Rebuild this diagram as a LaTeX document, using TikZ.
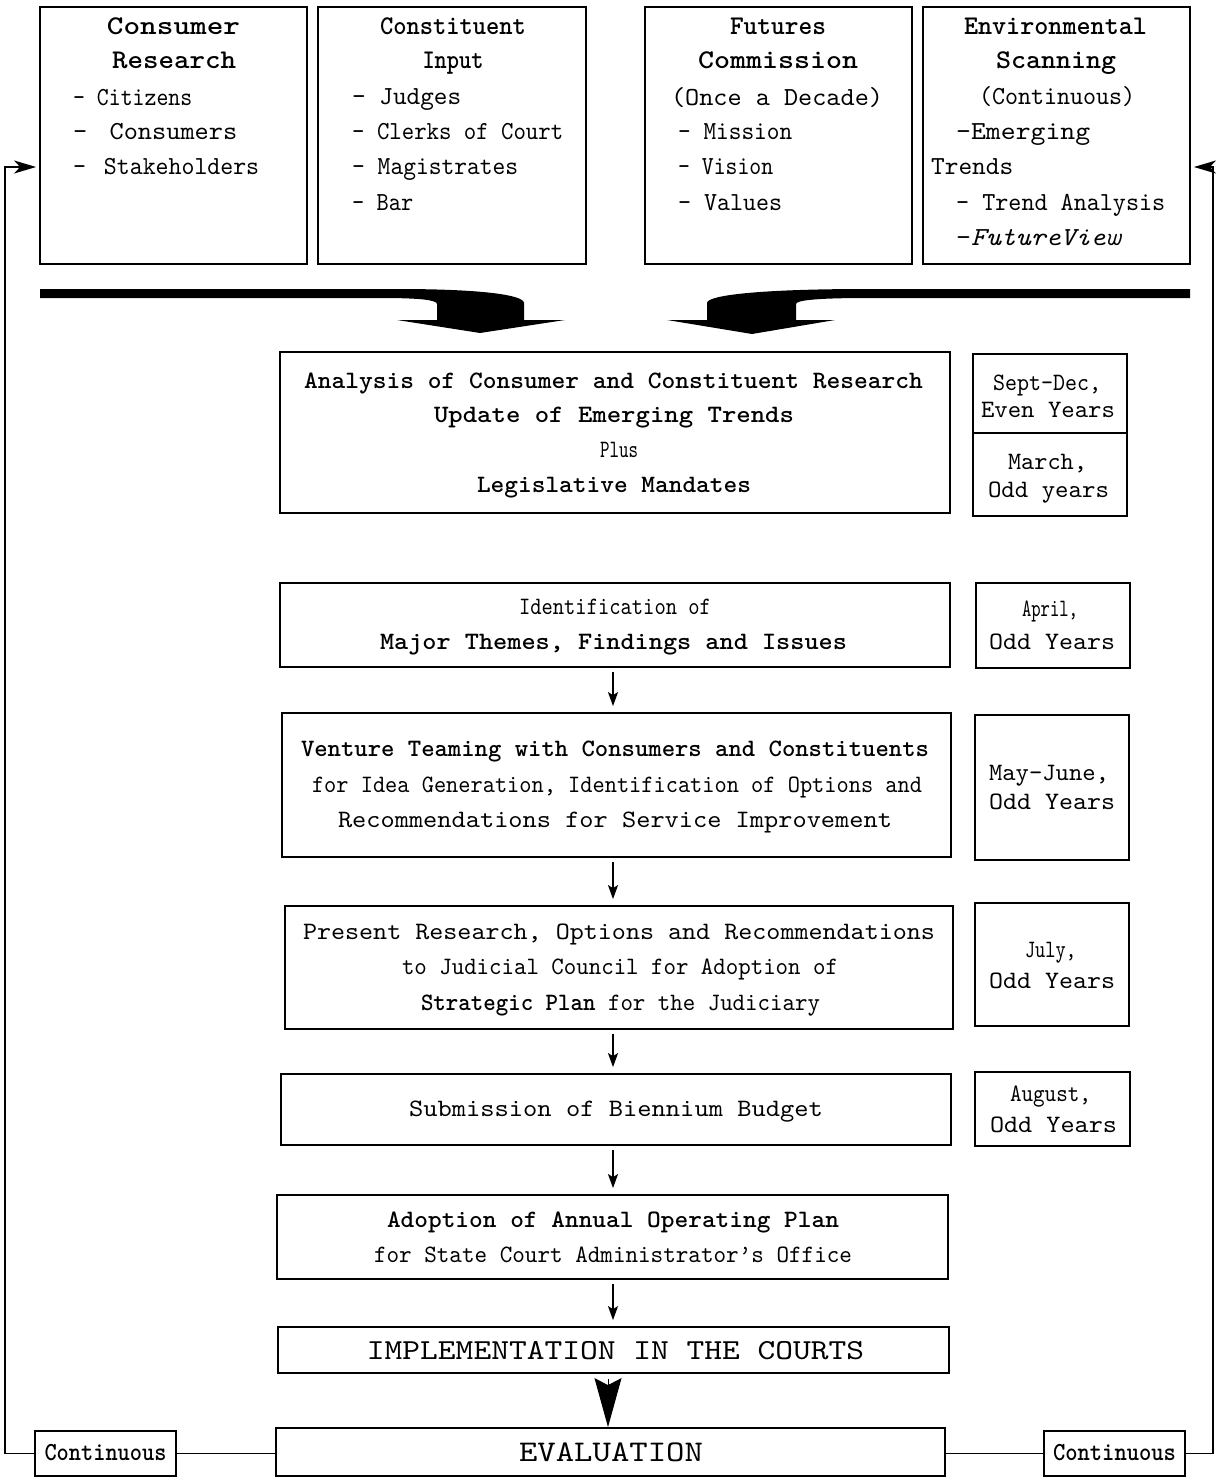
\documentclass[tikz,border=0pt]{standalone}
\usepackage{fontspec}
\setmainfont{lmmono10-regular.otf}[BoldFont=lmmonolt10-bold.otf, ItalicFont=lmmono10-italic.otf]
\usepackage{graphicx}
\usetikzlibrary{arrows.meta,fit}
\newcommand\tx[2]{\resizebox{#1pt}{\height}{#2}}
\begin{document}
\begin{tikzpicture}[x=1pt,y=-1pt,
  box/.style={draw, line width=1.8pt, inner sep=0pt},
  hd/.style={anchor=base, yshift=-8pt, inner sep=0pt, font=\fontsize{27}{32}\selectfont\bfseries},
  itm/.style={anchor=base west, yshift=-7.8pt, inner sep=0pt, font=\fontsize{26}{31}\selectfont},
  itc/.style={itm, anchor=base},
  mt/.style={anchor=base, yshift=-7.5pt, inner sep=0pt, font=\fontsize{25}{30}\selectfont},
  mb/.style={mt, font=\fontsize{25}{30}\selectfont\bfseries},
  flow/.style={line width=1.6pt, -{Stealth[length=14pt,width=10pt,inset=3pt]}, shorten <=4pt, shorten >=6pt},
  fbline/.style={line width=1.6pt},
  fbarrow/.style={line width=1.6pt, -{Stealth[length=22pt,width=13pt,inset=6pt]}, shorten >=3pt},
  bigarrow/.style={line width=1pt, -{Stealth[length=49pt,width=27pt,inset=7pt]}, shorten <=5pt}
]
\useasboundingbox (0,0) rectangle (1217,1479);
\fill[white] (0,0) rectangle (1217,1479);

% ---- top boxes
\node[box, fit={(40,7) (307,264)}] (b1) {};
\node[box, fit={(318,7) (586,264)}] (b2) {};
\node[box, fit={(645,7) (912,264)}] (b3) {};
\node[box, fit={(923,7) (1190,264)}] (b4) {};

\node[hd] (b1h1) at (173.5,27) {\tx{133}{Consumer}};
\node[hd] (b1h2) at (174,61) {\tx{124}{Research}};
\node[itm] (b1i1) at (73,98) {\tx{119}{– Citizens}};
\node[itm] (b1i2) at (73,132) {\tx{164}{–\hspace{.3em} Consumers}};
\node[itm] (b1i3) at (73,167) {\tx{186}{–\hspace{.2em} Stakeholders}};

\node[hd] (b2h1) at (453,27) {\tx{146}{Constituent}};
\node[hd] (b2h2) at (453,61) {\tx{61}{Input}};
\node[itm] (b2i1) at (352,97) {\tx{109}{– Judges}};
\node[itm] (b2i2) at (352,132) {\tx{211}{– Clerks of Court}};
\node[itm] (b2i3) at (352,167) {\tx{166}{– Magistrates}};
\node[itm] (b2i4) at (352,203) {\tx{61}{– Bar}};

\node[hd] (b3h1) at (778,27) {\tx{96}{Futures}};
\node[hd] (b3h2) at (778,61) {\tx{160}{Commission}};
\node[itc] (b3c) at (777,98) {\tx{212}{(Once a Decade)}};
\node[itm] (b3i1) at (678,132) {\tx{114}{– Mission}};
\node[itm] (b3i2) at (678,167) {\tx{95}{– Vision}};
\node[itm] (b3i3) at (678,203) {\tx{104}{– Values}};

\node[hd] (b4h1) at (1055.5,27) {\tx{183}{Environmental}};
\node[hd] (b4h2) at (1056,61) {\tx{120}{Scanning}};
\node[itc] (b4c) at (1057,97) {\tx{156}{(Continuous)}};
\node[itm] (b4i1) at (956,132) {\tx{134}{–Emerging}};
\node[itm] (b4i2) at (931,167) {\tx{82}{Trends}};
\node[itm] (b4i3) at (956,203) {\tx{209}{– Trend Analysis}};
\node[itm] (b4i4) at (956,238) {\tx{166}{–\textit{FutureView}}};

% ---- big curved arrows
\fill (40,289) -- (397,289) .. controls (482,289) and (524,295) .. (524,303)
  -- (524,320) -- (565,320) -- (480,333) -- (397,320) -- (437,320) -- (437,304)
  .. controls (437,300) and (420,298) .. (381,298) -- (40,298) -- cycle;
\fill (1190,289) -- (868,289) .. controls (762,289) and (707,295) .. (707,303)
  -- (707,320) -- (667,320) -- (752,334) -- (835,320) -- (796,320) -- (796,304)
  .. controls (796,300) and (820,298) .. (868,298) -- (1190,298) -- cycle;

% ---- flow boxes
\node[box, fit={(280,352) (950,513)}] (analysis) {};
\node[box, fit={(973,354) (1127,433)}] (d1a) {};
\node[box, fit={(973,433) (1127,516)}] (d1b) {};
\node[mb] (a1) at (613.5,381) {\tx{619}{Analysis of Consumer and Constituent Research}};
\node[mb] (a2) at (614,415) {\tx{360}{Update of Emerging Trends}};
\node[mt] (a3) at (619,450) {\tx{38}{Plus}};
\node[mb] (a4) at (614,485) {\tx{274}{Legislative Mandates}};
\node[mt] (d1t1) at (1047,383) {\tx{108}{Sept-Dec,}};
\node[mt] (d1t2) at (1048,410) {\tx{134}{Even Years}};
\node[mt] (d1t3) at (1047.5,462) {\tx{79}{March,}};
\node[mt] (d1t4) at (1048.5,490) {\tx{121}{Odd years}};

\node[box, fit={(280,583) (950,667)}] (ident) {};
\node[box, fit={(976,583) (1130,668)}] (d2) {};
\node[mt] (i1) at (615,607) {\tx{192}{Identification of}};
\node[mb] (i2) at (613.5,642) {\tx{467}{Major Themes, Findings and Issues}};
\node[mt] (d2t1) at (1050,609) {\tx{56}{April,}};
\node[mt] (d2t2) at (1052,642) {\tx{126}{Odd Years}};

\node[box, fit={(282,713) (951,857)}] (venture) {};
\node[box, fit={(975,715) (1129,860)}] (d3) {};
\node[mb] (v1) at (615,749) {\tx{628}{Venture Teaming with Consumers and Constituents}};
\node[mt] (v2) at (617,785) {\tx{610}{for Idea Generation, Identification of Options and}};
\node[mt] (v3) at (615,820) {\tx{554}{Recommendations for Service Improvement}};
\node[mt] (d3t1) at (1049,773) {\tx{120}{May–June,}};
\node[mt] (d3t2) at (1052,802) {\tx{126}{Odd Years}};

\node[box, fit={(285,906) (953,1029)}] (present) {};
\node[box, fit={(975,903) (1129,1026)}] (d4) {};
\node[mt] (p1) at (619,932) {\tx{632}{Present Research, Options and Recommendations}};
\node[mt] (p2) at (620,967) {\tx{436}{to Judicial Council for Adoption of}};
\node[mt] (p3) at (620.5,1003) {\tx{399}{\textbf{Strategic Plan} for the Judiciary}};
\node[mt] (d4t1) at (1050.5,950) {\tx{51}{July,}};
\node[mt] (d4t2) at (1052,981) {\tx{126}{Odd Years}};

\node[box, fit={(281,1074) (951,1145)}] (submission) {};
\node[box, fit={(975,1072) (1130,1146)}] (d5) {};
\node[mt] (s1) at (616,1109) {\tx{414}{Submission of Biennium Budget}};
\node[mt] (d5t1) at (1050.5,1094) {\tx{81}{August,}};
\node[mt] (d5t2) at (1053.5,1125) {\tx{127}{Odd Years}};

\node[box, fit={(277,1195) (948,1279)}] (adoption) {};
\node[mb] (ad1) at (613,1220) {\tx{452}{Adoption of Annual Operating Plan}};
\node[mt] (ad2) at (613,1255) {\tx{478}{for State Court Administrator’s Office}};

\node[box, fit={(278,1327) (949,1373)}] (impl) {};
\node[anchor=base, yshift=-8.5pt, inner sep=0pt, font=\fontsize{29}{34}\selectfont] (im1) at (615.5,1351) {\tx{497}{IMPLEMENTATION IN THE COURTS}};

\node[box, fit={(276,1428) (945,1476)}] (eval) {};
\node[anchor=base, yshift=-9pt, inner sep=0pt, font=\fontsize{30}{36}\selectfont] (ev1) at (611,1452) {\tx{184}{EVALUATION}};

\node[box, fit={(35,1431) (176,1476)}] (lcont) {};
\node[box, fit={(1044,1431) (1185,1476)}] (rcont) {};
\node[anchor=base, yshift=-7.5pt, inner sep=0pt, font=\fontsize{26}{31}\selectfont\bfseries] (lc1) at (105.5,1453) {\tx{122}{Continuous}};
\node[anchor=base, yshift=-7.5pt, inner sep=0pt, font=\fontsize{26}{31}\selectfont\bfseries] (rc1) at (1114.5,1453) {\tx{123}{Continuous}};

% ---- connectors
\coordinate (ax) at (613,0);
\draw[flow] (ident.south -| ax) -- (venture.north -| ax);
\draw[flow] (venture.south -| ax) -- (present.north -| ax);
\draw[flow] (present.south -| ax) -- (submission.north -| ax);
\draw[flow] (submission.south -| ax) -- (adoption.north -| ax);
\draw[flow] (adoption.south -| ax) -- (impl.north -| ax);
\coordinate (bx) at (608,0);
\draw[bigarrow] (impl.south -| bx) -- (eval.north -| bx);

\draw[fbline] (lcont.east) -- (lcont.east -| eval.west);
\draw[fbline] (rcont.west -| eval.east) -- (rcont.west);

\coordinate (lc) at (5,167);
\coordinate (rc) at (1213,167);
\draw[fbarrow] (lcont.west) -| (lc) -- (lc -| b1.west);
\draw[fbarrow] (rcont.east) -| (rc) -- (rc -| b4.east);
\end{tikzpicture}
\end{document}
